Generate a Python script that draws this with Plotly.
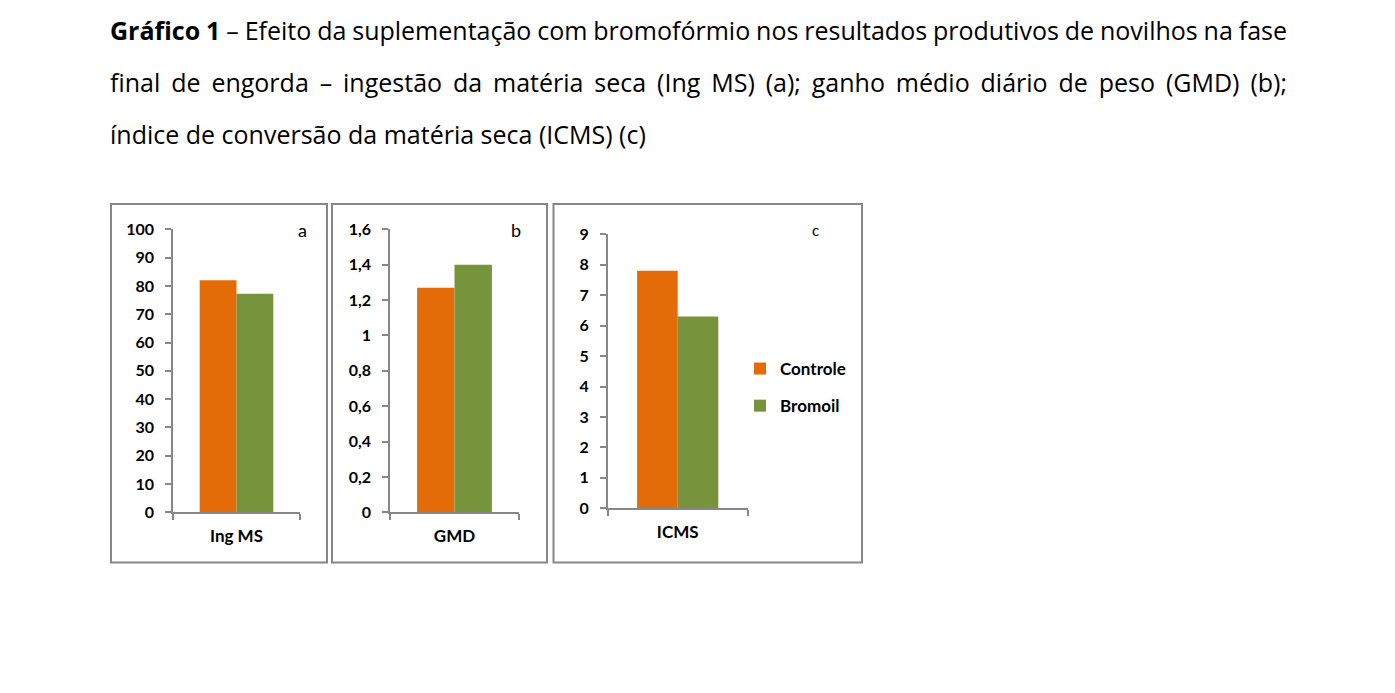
import plotly.graph_objects as go

# ---- data ----
series = ["Controle", "Bromoil"]
colors = ["#E36C09", "#77933C"]
cat_a = ["Ing MS"]
cat_b = ["GMD"]
cat_c = ["ICMS"]
ing_ms = [82, 77.2]
gmd = [1.27, 1.40]
icms = [7.8, 6.3]
ticks_a = [0, 10, 20, 30, 40, 50, 60, 70, 80, 90, 100]
ticklabels_a = ["0", "10", "20", "30", "40", "50", "60", "70", "80", "90", "100"]
ticks_b = [0, 0.2, 0.4, 0.6, 0.8, 1.0, 1.2, 1.4, 1.6]
ticklabels_b = ["0", "0,2", "0,4", "0,6", "0,8", "1", "1,2", "1,4", "1,6"]
ticks_c = [0, 1, 2, 3, 4, 5, 6, 7, 8, 9]
ticklabels_c = ["0", "1", "2", "3", "4", "5", "6", "7", "8", "9"]

W, H = 1395, 693
FONT = "Lato"
TFONT = "Open Sans"
GRAY = "#878787"

def px(x):
    return x / W

def py(y):
    return 1 - y / H

fig = go.Figure()
panels = [(cat_a, ing_ms, "x", "y"), (cat_b, gmd, "x2", "y2"), (cat_c, icms, "x3", "y3")]
for pi, (cat, vals, xa, ya) in enumerate(panels):
    for si, name in enumerate(series):
        fig.add_trace(go.Bar(
            x=cat, y=[vals[si]], name=name, marker=dict(color=colors[si], line=dict(width=0)),
            xaxis=xa, yaxis=ya, showlegend=(pi == 2), legendgroup=name,
            hoverinfo="skip"))

def xax(domain, anchor):
    return dict(domain=domain, anchor=anchor, type="category", showline=True, linecolor=GRAY,
                linewidth=1.5, ticks="outside", tickson="boundaries", ticklen=6, tickcolor=GRAY,
                tickwidth=1.5, showgrid=False, zeroline=False, fixedrange=True, automargin=False,
                tickfont=dict(family=FONT, size=17, color="black", weight="bold"),
                ticklabelstandoff=8)

def yax(domain, anchor, rng, tv, tt):
    return dict(domain=domain, anchor=anchor, range=rng, tickvals=tv, ticktext=tt,
                showline=True, linecolor=GRAY, linewidth=1.5, ticks="outside", ticklen=6,
                tickcolor=GRAY, tickwidth=1.5, showgrid=False, zeroline=False, fixedrange=True,
                automargin=False,
                tickfont=dict(family=FONT, size=16, color="black", weight="bold"),
                ticklabelstandoff=8)

yd_ab = [py(512.3), py(229.3)]
yd_c = [py(508.3), py(234.3)]
fig.update_layout(
    width=W, height=H, margin=dict(l=0, r=0, t=0, b=0, autoexpand=False),
    paper_bgcolor="white", plot_bgcolor="white",
    barmode="group", bargap=0.42, bargroupgap=0,
    xaxis=xax([px(173), px(300)], "y"),
    yaxis=yax(yd_ab, "x", [0, 100], ticks_a, ticklabels_a),
    xaxis2=xax([px(390), px(519)], "y2"),
    yaxis2=yax(yd_ab, "x2", [0, 1.6], ticks_b, ticklabels_b),
    xaxis3=xax([px(607.7), px(747.7)], "y3"),
    yaxis3=yax(yd_c, "x3", [0, 9], ticks_c, ticklabels_c),
    legend=dict(x=px(740), y=py(351), xanchor="left", yanchor="top",
                font=dict(family=FONT, size=17, color="black", weight="bold"),
                tracegroupgap=12, itemwidth=30, bgcolor="rgba(0,0,0,0)"),
    showlegend=True,
)

# panel frames
for x0, x1 in [(111, 327), (332, 547), (553.5, 862)]:
    fig.add_shape(type="rect", xref="paper", yref="paper", x0=px(x0), x1=px(x1),
                  y0=py(562.5), y1=py(204), line=dict(color=GRAY, width=2), fillcolor="rgba(0,0,0,0)")

# panel letters
for txt, x, y, s in [("a", 302, 230, 18), ("b", 516, 230, 18), ("c", 815, 230, 15)]:
    fig.add_annotation(text=txt, xref="paper", yref="paper", x=px(x), y=py(y),
                       showarrow=False, xanchor="center", yanchor="middle",
                       font=dict(family=FONT, size=s, color="black"))

# caption (first two lines justified in the browser)
lines = [
    "<b>Gráfico 1</b> – Efeito da suplementação com bromofórmio nos resultados produtivos de novilhos na fase",
    "final de engorda – ingestão da matéria seca (Ing MS) (a); ganho médio diário de peso (GMD) (b);",
    "índice de conversão da matéria seca (ICMS) (c)",
]
for i, ln in enumerate(lines):
    fig.add_annotation(text=ln, xref="paper", yref="paper", x=px(108), y=py(30 + 52 * i),
                       showarrow=False, xanchor="left", yanchor="middle", align="left",
                       font=dict(family=TFONT, size=25, color="black"))

post = """
document.body.style.margin='0';
document.body.style.overflow='hidden';
var gd = document.getElementById('{plot_id}');
var target = 1177;
gd.querySelectorAll('.annotation-text').forEach(function(t){
  var s = t.textContent;
  if (s.indexOf('Gráfico') === 0 || s.indexOf('final de') === 0) {
    var n = (s.match(/[ \\u00a0]/g) || []).length;
    var L = t.getComputedTextLength();
    if (n > 0) {
      t.style.wordSpacing = ((target - L) / n) + 'px';
    }
  }
});
"""
fig.write_html("out.html", config={"displayModeBar": False}, post_script=post)
